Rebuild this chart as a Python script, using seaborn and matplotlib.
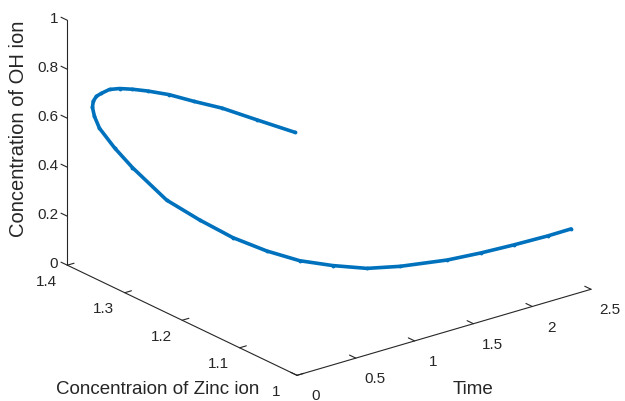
import numpy as np
import seaborn as sns
import matplotlib
matplotlib.use("Agg")
import matplotlib.pyplot as plt

sns.set_theme(style="white")
plt.rcParams['font.family'] = ['Liberation Sans', 'DejaVu Sans']

# values (time, zinc ion, OH ion)
time = [0.0, 0.0125, 0.025, 0.0375, 0.05, 0.0625, 0.075, 0.0875, 0.1, 0.1125,
        0.125, 0.1375, 0.15, 0.172, 0.195, 0.255, 0.31, 0.405, 0.49, 0.576,
        0.67, 0.78, 0.915, 1.083, 1.267, 1.581, 1.814, 2.062, 2.324, 2.501]
zinc = [1.0035, 1.072, 1.1355, 1.187, 1.233, 1.272, 1.302, 1.327, 1.347, 1.364,
        1.375, 1.383, 1.387, 1.388, 1.384, 1.37, 1.35, 1.31, 1.27, 1.23,
        1.19, 1.155, 1.125, 1.10, 1.08, 1.062, 1.052, 1.045, 1.039, 1.035]
oh = [0.988, 0.960, 0.935, 0.903, 0.877, 0.846, 0.818, 0.791, 0.763, 0.726,
      0.700, 0.669, 0.638, 0.597, 0.550, 0.477, 0.411, 0.310, 0.262, 0.223,
      0.200, 0.184, 0.179, 0.172, 0.177, 0.179, 0.186, 0.192, 0.199, 0.207]

x_ticks = [0, 0.5, 1, 1.5, 2, 2.5]
y_ticks = [1, 1.1, 1.2, 1.3, 1.4]
z_ticks = [0, 0.2, 0.4, 0.6, 0.8, 1]
x_labels = ['0', '0.5', '1', '1.5', '2', '2.5']
y_labels = ['1', '1.1', '1.2', '1.3', '1.4']
z_labels = ['0', '0.2', '0.4', '0.6', '0.8', '1']

txt = '#262626'

fig = plt.figure(figsize=(6.25, 4.02), dpi=100)
ax = fig.add_axes([0.018, 0.099, 1.0, 1.0], projection='3d')
ax.set_proj_type('ortho')
ax.view_init(elev=22, azim=-128)
ax.set_box_aspect((1, 1, 0.708), zoom=1.425)

ax.plot(time, zinc, oh, color='#0072BD', lw=2.6, marker='.', ms=3.5,
        clip_on=False)

ax.set_xlim(0, 2.5)
ax.set_ylim(1, 1.4)
ax.set_zlim(0, 1)
# MATLAB style ticks and labels are drawn by hand below
ax.set_xticks([])
ax.set_yticks([])
ax.set_zticks([])
ax.grid(False)
for axis in (ax.xaxis, ax.yaxis, ax.zaxis):
    axis.label.set_visible(False)
    axis.offsetText.set_visible(False)
    axis.set_pane_color((1, 1, 1, 0))
    axis.pane.set_edgecolor('none')
    axis.line.set_color(txt)
    axis.line.set_linewidth(0.8)

# short inward tick marks
for v in x_ticks:
    ax.plot([v, v], [1, 1.011], [0, 0], color=txt, lw=0.8, clip_on=False)
for v in y_ticks:
    ax.plot([0, 0.057], [v, v], [0, 0], color=txt, lw=0.8, clip_on=False)
for v in z_ticks:
    ax.plot([0, 0], [1.4, 1.411], [v, v], color=txt, lw=0.8, clip_on=False)

# tick labels placed like MATLAB's, just off each axis line
for v, s in zip(x_ticks, x_labels):
    ax.text(v, 0.967, -0.045, s, fontsize=11, color=txt, ha='center', va='center')
for v, s in zip(y_ticks, y_labels):
    ax.text(-0.177, v, -0.038, s, fontsize=11, color=txt, ha='center', va='center')
for v, s in zip(z_ticks, z_labels):
    ax.text(-0.048, 1.4058, v + 0.008, s, fontsize=11, color=txt, ha='right', va='center')

fig.text(0.253, 0.03, 'Concentraion of Zinc ion', fontsize=13.5, color=txt,
         ha='center', va='center')
fig.text(0.757, 0.03, 'Time', fontsize=13.5, color=txt,
         ha='center', va='center')
fig.text(0.029, 0.68, 'Concentration of OH ion', fontsize=14.5, color=txt,
         rotation=90, ha='center', va='center')

fig.savefig('out.png', dpi=100)
